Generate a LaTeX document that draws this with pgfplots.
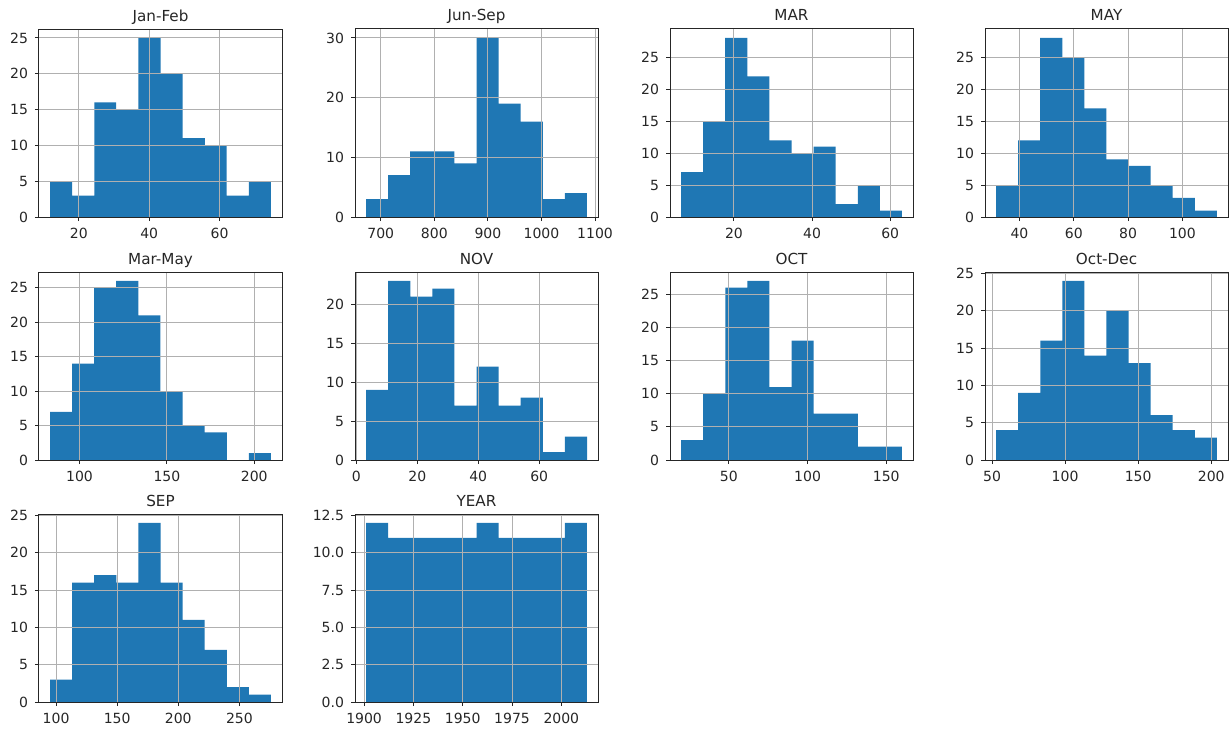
\documentclass[border=0pt]{standalone}
\usepackage{fontspec}
\setmainfont{DejaVu Sans}
\usepackage{pgfplots}
\pgfplotsset{compat=1.18}
\definecolor{mplblue}{HTML}{1F77B4}
\definecolor{gridgray}{HTML}{B0B0B0}
\pgfplotsset{
  hstyle/.style={
    scale only axis, width=121.5pt, height=94pt, anchor=south west,
    axis on top, grid=major, grid style={gridgray, line width=0.5pt},
    axis line style={black!85, line width=0.5pt},
    tick pos=left, tick align=outside, major tick length=2pt,
    tick style={black!85, line width=0.5pt},
    ymin=0, scaled ticks=false,
    tick label style={font=\fontsize{7}{8}\selectfont, text=black!85},
    /pgf/number format/assume math mode=true,
    /pgf/number format/1000 sep={},
    title style={font=\fontsize{7.6}{9}\selectfont, text=black!85, at={(0.5,1)}, anchor=base, yshift=-2pt},
  },
  hbar/.style={ybar interval, fill=mplblue, draw=none},
}
\begin{document}
\begin{tikzpicture}
\useasboundingbox (0,0) rectangle (614.5pt,365pt);
% Row 1
\begin{axis}[hstyle, at={(19.5pt,256.5pt)}, title={Jan-Feb},
  xmin=8.66, xmax=77.74, ymax=26.25, xtick={20,40,60}, ytick={0,5,10,15,20,25}]
\addplot[hbar] table {
x y
11.8 5
18.1 3
24.4 16
30.6 15
36.9 25
43.2 20
49.5 11
55.8 10
62.0 3
68.3 5
74.6 5
};
\end{axis}
\begin{axis}[hstyle, at={(177.5pt,256.5pt)}, title={Jun-Sep},
  xmin=651.9, xmax=1105.5, ymax=31.5, xtick={700,800,900,1000,1100}, ytick={0,10,20,30}]
\addplot[hbar] table {
x y
672.5 3
713.7 7
755.0 11
796.2 11
837.5 9
878.7 30
919.9 19
961.2 16
1002.4 3
1043.7 4
1084.9 4
};
\end{axis}
\begin{axis}[hstyle, at={(335pt,256.5pt)}, title={MAR},
  xmin=3.62, xmax=65.83, ymax=29.4, xtick={20,40,60}, ytick={0,5,10,15,20,25}]
\addplot[hbar] table {
x y
6.45 7
12.10 15
17.76 28
23.41 22
29.07 12
34.72 10
40.38 11
46.03 2
51.69 5
57.34 1
63.00 1
};
\end{axis}
\begin{axis}[hstyle, at={(492.5pt,256.5pt)}, title={MAY},
  xmin=27.3, xmax=116.8, ymax=29.4, xtick={40,60,80,100}, ytick={0,5,10,15,20,25}]
\addplot[hbar] table {
x y
31.4 5
39.5 12
47.6 28
55.8 25
63.9 17
72.0 9
80.2 8
88.3 5
96.4 3
104.6 1
112.7 1
};
\end{axis}
% Row 2
\begin{axis}[hstyle, at={(19.5pt,135pt)}, title={Mar-May},
  xmin=76.8, xmax=215.9, ymax=27.3, xtick={100,150,200}, ytick={0,5,10,15,20,25}]
\addplot[hbar] table {
x y
83.1 7
95.7 14
108.4 25
121.0 26
133.7 21
146.3 10
159.0 5
171.6 4
184.3 0
196.9 1
209.6 1
};
\end{axis}
\begin{axis}[hstyle, at={(177.5pt,135pt)}, title={NOV},
  xmin=-0.43, xmax=79.3, ymax=24.15, xtick={0,20,40,60}, ytick={0,5,10,15,20}]
\addplot[hbar] table {
x y
3.20 9
10.45 23
17.70 21
24.95 22
32.20 7
39.45 12
46.70 7
53.95 8
61.20 1
68.45 3
75.70 3
};
\end{axis}
\begin{axis}[hstyle, at={(335pt,135pt)}, title={OCT},
  xmin=12.6, xmax=167.0, ymax=28.35, xtick={50,100,150}, ytick={0,5,10,15,20,25}]
\addplot[hbar] table {
x y
19.6 3
33.6 10
47.7 26
61.7 27
75.8 11
89.8 18
103.8 7
117.9 7
131.9 2
146.0 2
160.0 2
};
\end{axis}
\begin{axis}[hstyle, at={(492.5pt,135pt)}, title={Oct-Dec},
  xmin=45.2, xmax=211.5, ymax=25.2, xtick={50,100,150,200}, ytick={0,5,10,15,20,25}]
\addplot[hbar] table {
x y
52.75 4
67.9 9
83.0 16
98.1 24
113.2 14
128.3 20
143.4 13
158.5 6
173.6 4
188.8 3
203.9 3
};
\end{axis}
% Row 3
\begin{axis}[hstyle, at={(19.5pt,14pt)}, title={SEP},
  xmin=86.0, xmax=284.9, ymax=25.2, xtick={100,150,200,250}, ytick={0,5,10,15,20,25}]
\addplot[hbar] table {
x y
95.1 3
113.1 16
131.2 17
149.3 16
167.4 24
185.5 16
203.5 11
221.6 7
239.7 2
257.8 1
275.8 1
};
\end{axis}
\begin{axis}[hstyle, at={(177.5pt,14pt)}, title={YEAR},
  xmin=1895.4, xmax=2018.6, ymax=12.6, xtick={1900,1925,1950,1975,2000},
  ytick={0,2.5,5,7.5,10,12.5},
  yticklabel style={/pgf/number format/.cd, fixed, fixed zerofill, precision=1}]
\addplot[hbar] table {
x y
1901.0 12
1912.2 11
1923.4 11
1934.6 11
1945.8 11
1957.0 12
1968.2 11
1979.4 11
1990.6 11
2001.8 12
2013.0 12
};
\end{axis}
\end{tikzpicture}
\end{document}
